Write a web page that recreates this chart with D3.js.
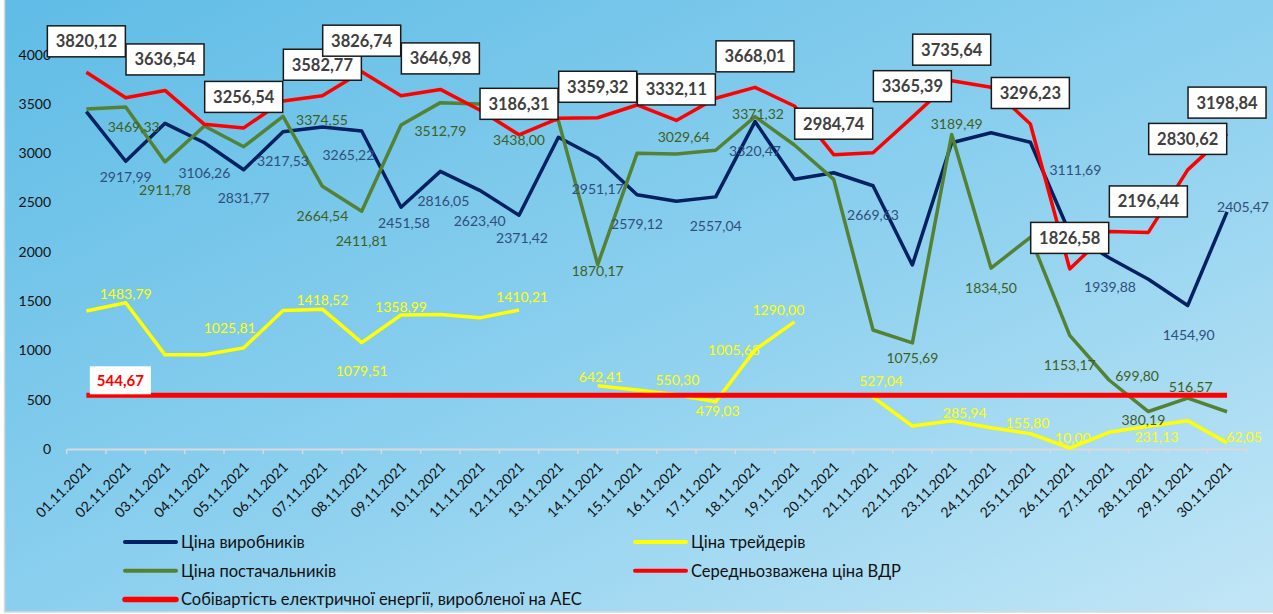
<!DOCTYPE html>
<html>
<head>
<meta charset="utf-8">
<script src="https://cdn.jsdelivr.net/npm/d3@7"></script>
<style>
    body { margin: 0; }
    svg { display: block; font-family: Lato, "Noto Sans", sans-serif; }
</style>
</head>
<body>
<script>
// Chart size
let w = 1273;
let h = 614;

// Dates on the x axis
let dates = [
    "01.11.2021", "02.11.2021", "03.11.2021", "04.11.2021", "05.11.2021",
    "06.11.2021", "07.11.2021", "08.11.2021", "09.11.2021", "10.11.2021",
    "11.11.2021", "12.11.2021", "13.11.2021", "14.11.2021", "15.11.2021",
    "16.11.2021", "17.11.2021", "18.11.2021", "19.11.2021", "20.11.2021",
    "21.11.2021", "22.11.2021", "23.11.2021", "24.11.2021", "25.11.2021",
    "26.11.2021", "27.11.2021", "28.11.2021", "29.11.2021", "30.11.2021"
];

let yTicks = [0, 500, 1000, 1500, 2000, 2500, 3000, 3500, 4000];

// Series values
let producers = [3421, 2917.99, 3303, 3106.26, 2831.77, 3217.53, 3265.22, 3225, 2451.58, 2816.05,
    2623.40, 2371.42, 3161, 2951.17, 2579.12, 2512, 2557.04, 3320.47, 2735, 2802,
    2669.63, 1866, 3106, 3208, 3111.69, 2190, 1939.88, 1721, 1454.90, 2405.47];

let traders = [1400, 1483.79, 955, 955, 1025.81, 1405, 1418.52, 1079.51, 1358.99, 1365,
    1330, 1410.21, null, 642.41, 598, 550.30, 479.03, 1005.63, 1290.00, null,
    527.04, 233, 285.94, 216, 155.80, 10.00, 169, 231.13, 287, 62.05];

let suppliers = [3448, 3469.33, 2911.78, 3276, 3066, 3374.55, 2664.54, 2411.81, 3286, 3512.79,
    3499, 3438.00, 3330, 1870.17, 2999, 2992, 3029.64, 3371.32, 3083, 2735,
    1207, 1075.69, 3189.49, 1834.50, 2147, 1153.17, 699.80, 380.19, 516.57, 378];

let weighted = [3820.12, 3563, 3636.54, 3293, 3256.54, 3530, 3582.77, 3826.74, 3583, 3646.98,
    3438, 3186.31, 3354, 3359.32, 3489, 3332.11, 3557, 3668.01, 3479, 2984.74,
    3005, 3365.39, 3735.64, 3668, 3296.23, 1826.58, 2205, 2196.44, 2830.62, 3198.84];

let npcCost = 544.67;

// Which points carry a value label: [index, dx, dy]
let producersLabels = [[1, 0, 15], [3, 0, 30], [4, 0, 28], [5, 0, 29], [6, 26, 27], [8, 3, 15],
    [9, 3, 29], [10, 0, 30], [11, 3, 22], [13, 0, 30], [14, 0, 29], [16, 0, 29], [17, 0, 29],
    [20, 0, 29], [24, 45, 27], [26, 1, 29], [28, 1, 29], [29, 16, -5]];
let tradersLabels = [[1, 0, -9], [4, -14, -20], [6, 0, -10], [7, 0, 28], [8, 0, -9], [11, 3, -13],
    [13, 3, -9], [15, 1, -15], [16, 2, 9], [17, -21, 0], [18, -16, -12], [20, 8, -17],
    [22, 13, -8], [24, -3, -11], [25, 3, -11], [27, 8, 10], [29, 17, -6]];
let suppliersLabels = [[1, 8, 20], [2, 0, 28], [5, 39, 3], [6, 0, 29], [7, 0, 29], [9, 0, 28],
    [11, 0, 29], [13, 0, 6], [16, -32, -14], [17, 3, -3], [21, 0, 15], [22, 5, -11],
    [23, 0, 19], [25, 0, 29], [26, 28, -4], [27, -5, 8], [28, 3, -12]];
let weightedLabels = [0, 2, 4, 6, 7, 9, 11, 13, 15, 17, 19, 21, 22, 24, 25, 27, 28, 29];

let legendItems = [
    { name: "Ціна виробників", color: "#002060", width: 4 },
    { name: "Ціна трейдерів", color: "#ffff00", width: 4 },
    { name: "Ціна постачальників", color: "#548235", width: 4 },
    { name: "Середньозважена ціна ВДР", color: "#ff0000", width: 4 },
    { name: "Собівартість електричної енергії, виробленої на АЕС", color: "#ff0000", width: 5.5 }
];

// Number format with a comma
let fmt = function(v) {
    return v.toFixed(2).replace(".", ",");
};

let svg = d3.select("body")
    .append("svg")
    .attr("width", w)
    .attr("height", h);

// Background gradient
let grad = svg.append("defs")
    .append("linearGradient")
    .attr("id", "bg")
    .attr("x1", "0").attr("y1", "0")
    .attr("x2", "1").attr("y2", "1");
grad.append("stop").attr("offset", "0%").attr("stop-color", "#5fbce6");
grad.append("stop").attr("offset", "55%").attr("stop-color", "#8fd1ef");
grad.append("stop").attr("offset", "100%").attr("stop-color", "#c2e6f6");

svg.append("rect")
    .attr("x", 4.5)
    .attr("y", -2)
    .attr("width", w + 4)
    .attr("height", 614)
    .attr("fill", "url(#bg)")
    .attr("stroke", "#d9d9d9")
    .attr("stroke-width", 1.5);

// Scales
let x = d3.scaleBand()
    .domain(dates)
    .range([66.7, 1246.7]);

let y = d3.scaleLinear()
    .domain([0, 4000])
    .range([449, 54.6]);

let cx = function(i) {
    return x(dates[i]) + x.bandwidth() / 2;
};

// X axis
let xAxis = svg.append("g")
    .attr("transform", "translate(0,449)")
    .call(d3.axisBottom(x).tickSize(0).tickPadding(0).tickFormat(""));
xAxis.select(".domain").attr("stroke", "#d9d9d9").attr("stroke-width", 2);

// Tick marks on category borders
svg.append("g")
    .selectAll("line")
    .data(d3.range(dates.length + 1))
    .enter()
    .append("line")
    .attr("x1", function(d) { return 66.7 + d * x.bandwidth(); })
    .attr("x2", function(d) { return 66.7 + d * x.bandwidth(); })
    .attr("y1", 449)
    .attr("y2", 454)
    .attr("stroke", "#d9d9d9")
    .attr("stroke-width", 1.5);

// Rotated date labels
svg.append("g")
    .selectAll("text")
    .data(dates)
    .enter()
    .append("text")
    .attr("transform", function(d) {
        return "translate(" + (x(d) + x.bandwidth() / 2 + 6) + ",468) rotate(-45)";
    })
    .attr("text-anchor", "end")
    .style("font-size", "14px")
    .attr("fill", "#111")
    .text(function(d) { return d; });

// Y axis labels, no line
let yAxis = svg.append("g")
    .attr("transform", "translate(51,0)")
    .call(d3.axisLeft(y).tickValues(yTicks).tickFormat(d3.format("d")).tickSize(0).tickPadding(0));
yAxis.select(".domain").remove();
yAxis.selectAll("text")
    .style("font-size", "14px")
    .style("font-family", "Lato, 'Noto Sans', sans-serif")
    .attr("fill", "#111");

// Line generator that skips missing days
let line = d3.line()
    .defined(function(d) { return d !== null; })
    .x(function(d, i) { return cx(i); })
    .y(function(d) { return y(d); });

let drawSeries = function(values, color, width) {
    svg.append("path")
        .datum(values)
        .attr("d", line)
        .attr("fill", "none")
        .attr("stroke", color)
        .attr("stroke-width", width)
        .attr("stroke-linejoin", "round");
};

drawSeries(producers, "#002060", 3.5);
drawSeries(traders, "#ffff00", 3.5);
drawSeries(suppliers, "#548235", 3.5);
drawSeries(weighted, "#ff0000", 3.5);
drawSeries(dates.map(function() { return npcCost; }), "#ff0000", 5);

// Plain value labels
let drawLabels = function(values, labels, color) {
    svg.append("g")
        .selectAll("text")
        .data(labels)
        .enter()
        .append("text")
        .attr("x", function(d) { return cx(d[0]) + d[1]; })
        .attr("y", function(d) { return y(values[d[0]]) + d[2]; })
        .attr("text-anchor", "middle")
        .attr("dominant-baseline", "central")
        .style("font-size", "14px")
        .attr("fill", color)
        .text(function(d) { return fmt(values[d[0]]); });
};

drawLabels(producers, producersLabels, "#2f4f7c");
drawLabels(traders, tradersLabels, "#ffff00");
drawLabels(suppliers, suppliersLabels, "#3f5f22");

// Boxed labels for the weighted price
let boxes = svg.append("g")
    .selectAll("g")
    .data(weightedLabels)
    .enter()
    .append("g")
    .attr("transform", function(i) {
        return "translate(" + cx(i) + "," + (y(weighted[i]) - 31) + ")";
    });
boxes.append("rect")
    .attr("x", -39)
    .attr("y", -15.5)
    .attr("width", 78)
    .attr("height", 31)
    .attr("fill", "#fff")
    .attr("stroke", "#1a1a1a")
    .attr("stroke-width", 1.5);
boxes.append("text")
    .attr("text-anchor", "middle")
    .attr("dominant-baseline", "central")
    .style("font-size", "16.5px")
    .style("font-weight", "bold")
    .attr("fill", "#404040")
    .text(function(i) { return fmt(weighted[i]); });

// Label of the nuclear cost line
let npcLabel = svg.append("g")
    .attr("transform", "translate(" + (cx(0) + 34) + "," + (y(npcCost) - 15) + ")");
npcLabel.append("rect")
    .attr("x", -30.5)
    .attr("y", -14)
    .attr("width", 61)
    .attr("height", 28)
    .attr("fill", "#fff");
npcLabel.append("text")
    .attr("text-anchor", "middle")
    .attr("dominant-baseline", "central")
    .style("font-size", "15px")
    .style("font-weight", "bold")
    .attr("fill", "#ff0000")
    .text(fmt(npcCost));

// Legend in two columns
let legend = svg.append("g")
    .selectAll("g")
    .data(legendItems)
    .enter()
    .append("g")
    .attr("transform", function(d, i) {
        let col = i % 2;
        let row = Math.floor(i / 2);
        return "translate(" + (col === 0 ? 125 : 635) + "," + (542 + row * 28.7) + ")";
    });
legend.append("line")
    .attr("x1", 0)
    .attr("x2", 51)
    .attr("stroke", function(d) { return d.color; })
    .attr("stroke-width", function(d) { return d.width; })
    .attr("stroke-linecap", "round");
legend.append("text")
    .attr("x", 56)
    .attr("dominant-baseline", "central")
    .style("font-size", "16.5px")
    .attr("fill", "#111")
    .text(function(d) { return d.name; });
</script>
</body>
</html>
